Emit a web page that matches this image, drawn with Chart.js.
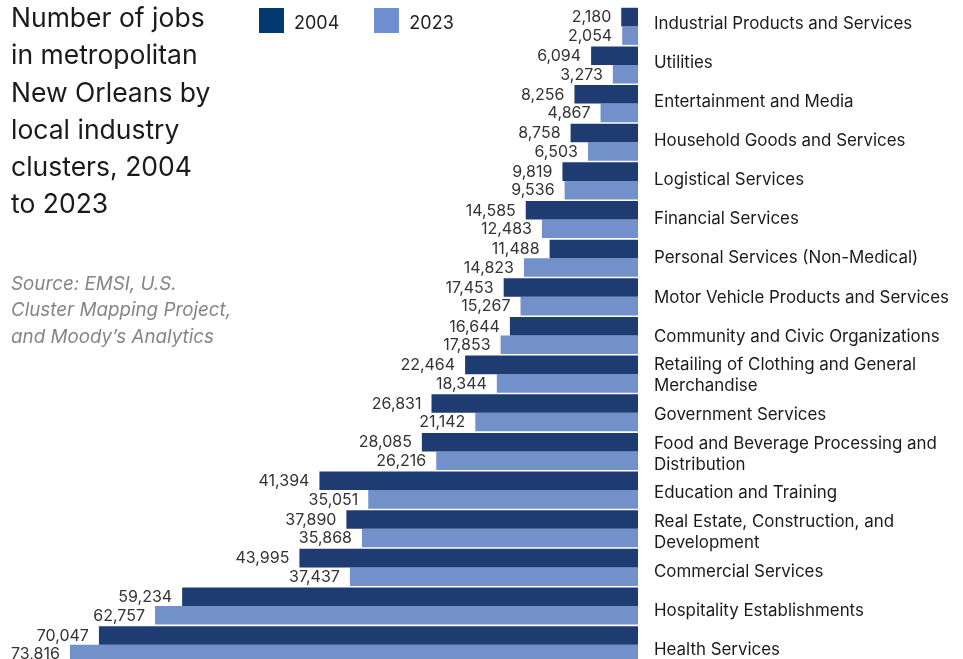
<!DOCTYPE html>
<html>
<head>
<meta charset="utf-8">
<script src="https://cdn.jsdelivr.net/npm/chart.js@4"></script>
<style>
  html, body { margin: 0; padding: 0; background: #fff; overflow: hidden; }
  body { width: 963px; height: 659px; }
  #wrap { position: relative; width: 963px; height: 664px; }
  #chart { position: absolute; left: 0; top: 0; }
  .title {
    position: absolute; left: 11px; top: -1px;
    font: 26.5px Inter, sans-serif; line-height: 37.3px; color: #1a1a1a;
  }
  .source {
    position: absolute; left: 11px; top: 270.5px;
    font: italic 18.8px Inter, sans-serif; line-height: 26.7px; color: #858585;
  }
  .legend { position: absolute; left: 259px; top: 8px; display: flex; }
  .legend .item { display: flex; align-items: flex-start; margin-right: 35px; }
  .legend .swatch { width: 25px; height: 25px; margin-right: 10px; }
  .legend .label { font: 18px Inter, sans-serif; line-height: 25px; padding-top: 2px; color: #222; }
</style>
</head>
<body>
<div id="wrap">
  <canvas id="chart" width="963" height="664"></canvas>
  <div class="title">Number of jobs<br>in metropolitan<br>New Orleans by<br>local industry<br>clusters, 2004<br>to 2023</div>
  <div class="source">Source: EMSI, U.S.<br>Cluster Mapping Project,<br>and Moody’s Analytics</div>
  <div class="legend" id="legend"></div>
</div>
<script>
// Local industry clusters, top to bottom
const clusters = [
  'Industrial Products and Services',
  'Utilities',
  'Entertainment and Media',
  'Household Goods and Services',
  'Logistical Services',
  'Financial Services',
  'Personal Services (Non-Medical)',
  'Motor Vehicle Products and Services',
  'Community and Civic Organizations',
  ['Retailing of Clothing and General', 'Merchandise'],
  'Government Services',
  ['Food and Beverage Processing and', 'Distribution'],
  'Education and Training',
  ['Real Estate, Construction, and', 'Development'],
  'Commercial Services',
  'Hospitality Establishments',
  'Health Services'
];

// Jobs per cluster
const jobs2004 = [2180, 6094, 8256, 8758, 9819, 14585, 11488, 17453, 16644, 22464, 26831, 28085, 41394, 37890, 43995, 59234, 70047];
const jobs2023 = [2054, 3273, 4867, 6503, 9536, 12483, 14823, 15267, 17853, 18344, 21142, 26216, 35051, 35868, 37437, 62757, 73816];

const seriesNames = ['2004', '2023'];
const barColors = ['#1e3c71', '#7291ca'];
const swatchColors = ['#023a70', '#6f8fd0'];

// Range of the name axis (row index units), so names sit beside their rows
const nameAxisMin = -0.42;
const nameAxisMax = 16.365;

const fmt = new Intl.NumberFormat('en-US');

// Value labels at the outer (left) end of each bar
const valueLabels = {
  id: 'valueLabels',
  afterDatasetsDraw(chart) {
    const ctx = chart.ctx;
    ctx.save();
    ctx.font = '16px Inter, sans-serif';
    ctx.fillStyle = '#333';
    ctx.textAlign = 'right';
    ctx.textBaseline = 'middle';
    chart.data.datasets.forEach((ds, i) => {
      chart.getDatasetMeta(i).data.forEach((bar, j) => {
        ctx.fillText(fmt.format(ds.data[j]), bar.x - 10, bar.y + 0.5);
      });
    });
    ctx.restore();
  }
};

const chart = new Chart(document.getElementById('chart'), {
  type: 'bar',
  data: {
    labels: clusters,
    datasets: [
      { label: seriesNames[0], data: jobs2004, backgroundColor: barColors[0] },
      { label: seriesNames[1], data: jobs2023, backgroundColor: barColors[1] }
    ]
  },
  options: {
    indexAxis: 'y',
    responsive: false,
    animation: false,
    layout: { padding: { top: 7, left: 0, right: 0, bottom: 0 } },
    datasets: { bar: { barPercentage: 1, categoryPercentage: 0.96, borderWidth: 0 } },
    scales: {
      x: {
        reverse: true, min: 0, max: 82900, display: false
      },
      // category axis that places the bars
      y: {
        display: false,
        afterFit(scale) { scale.paddingTop = 0; scale.paddingBottom = 0; }
      },
      // cluster names along the right side, one per row
      names: {
        type: 'linear',
        position: 'right',
        reverse: true,
        offset: false,
        bounds: 'data',
        min: nameAxisMin,
        max: nameAxisMax,
        grid: { display: false, drawTicks: false },
        border: { display: false },
        afterBuildTicks(scale) {
          scale.ticks = clusters.map((_, i) => ({ value: i }));
        },
        ticks: {
          autoSkip: false,
          padding: 16,
          color: '#1a1a1a',
          font: { family: 'Inter, sans-serif', size: 16.9, lineHeight: 1.25 },
          callback: (v) => clusters[v]
        },
        afterFit(scale) {
          scale.width = 325;
          scale.paddingTop = 0;
          scale.paddingBottom = 0;
        }
      }
    },
    plugins: {
      legend: { display: false },
      tooltip: { enabled: false }
    }
  },
  plugins: [valueLabels]
});

// Legend built from the datasets
const legend = document.getElementById('legend');
chart.data.datasets.forEach((ds, i) => {
  const item = document.createElement('div');
  item.className = 'item';
  const sw = document.createElement('div');
  sw.className = 'swatch';
  sw.style.background = swatchColors[i];
  const lb = document.createElement('div');
  lb.className = 'label';
  lb.textContent = ds.label;
  item.appendChild(sw);
  item.appendChild(lb);
  legend.appendChild(item);
});
</script>
</body>
</html>
